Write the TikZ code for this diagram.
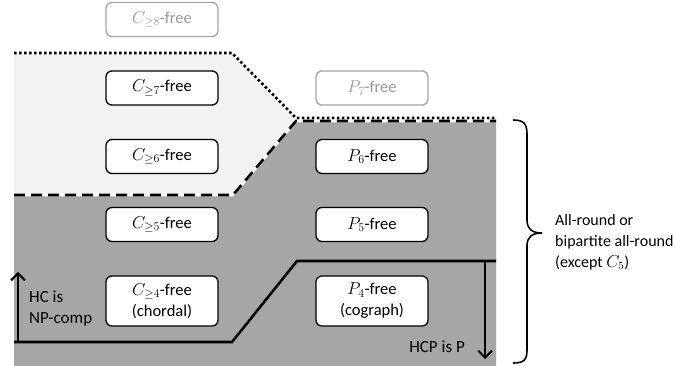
\documentclass[tikz,border=0pt]{standalone}
\usepackage{fontspec}
\setmainfont{Carlito}
\usetikzlibrary{arrows.meta}
\definecolor{darkbg}{HTML}{A6A6A6}
\definecolor{lightbg}{HTML}{F2F2F2}
\definecolor{fadegray}{HTML}{999999}
\tikzset{
  classbox/.style={draw=black, fill=white, line width=1.3pt, rounded corners=6pt,
    minimum width=112pt, minimum height=34pt, font=\fontsize{16.5}{21}\selectfont, inner sep=0pt},
  fadebox/.style={classbox, draw=fadegray!90, text=fadegray},
  tallbox/.style={classbox, minimum height=50pt, align=center},
  bound/.style={line width=2.6pt},
  sidetext/.style={font=\fontsize{17}{21}\selectfont, align=left, inner sep=0pt},
  bracetext/.style={font=\fontsize{16}{21}\selectfont, align=left, inner sep=0pt},
  harrow/.style={line width=2.2pt, -{Straight Barb[length=7pt,width=14pt,line width=2pt]}}
}
\begin{document}
\begin{tikzpicture}[x=1pt,y=-1pt]
\useasboundingbox (0,0) rectangle (675,366);
% regions
\fill[lightbg] (14,53) -- (232,53) -- (296,118) -- (496,118) -- (496,366) -- (14,366) -- cycle;
\fill[darkbg] (14,195) -- (233,195) -- (296,121) -- (496,121) -- (496,366) -- (14,366) -- cycle;
% boundaries
\draw[bound, white] (14,53) -- (232,53) -- (296,118) -- (496,118);
\draw[bound, black, dash pattern=on 2.6pt off 2.4pt] (14,53) -- (232,53) -- (296,118) -- (496,118);
\draw[bound, white] (14,195) -- (233,195) -- (296,121) -- (496,121);
\draw[bound, black, dash pattern=on 11pt off 6pt] (14,195) -- (233,195) -- (296,121) -- (496,121);
% solid border
\draw[bound, line join=miter] (14,342) -- (232,342) -- (297,261) -- (496,261);
\coordinate (upbase) at (18,342);
\coordinate (uptip) at (18,272);
\coordinate (downbase) at (485,261);
\coordinate (downtip) at (485,359);
\draw[harrow] (upbase) -- (uptip);
\draw[harrow] (downbase) -- (downtip);
% boxes
\node[fadebox] (c8) at (162,19.5) {$C_{\geq 8}$-free};
\node[classbox] (c7) at (162,88) {$C_{\geq 7}$-free};
\node[classbox] (c6) at (162,156.5) {$C_{\geq 6}$-free};
\node[classbox] (c5) at (162,224.5) {$C_{\geq 5}$-free};
\node[tallbox] (c4) at (162,301) {$C_{\geq 4}$-free\\(chordal)};
\node[fadebox] (p7) at (372,88) {$P_{7}$-free};
\node[classbox] (p6) at (372,156.5) {$P_{6}$-free};
\node[classbox] (p5) at (372,224.5) {$P_{5}$-free};
\node[tallbox] (p4) at (372,301) {$P_{4}$-free\\(cograph)};
% side texts
\node[sidetext, anchor=west] (hc) at (29,309) {HC is\\NP-comp};
\node[sidetext, anchor=east] (hcp) at (465,347) {HCP is P};
% brace
\draw[line width=1.6pt] (513,120) .. controls (524,120) and (527,124) .. (527,134) -- (527,220)
  .. controls (527,229) and (532,233) .. (542,233)
  .. controls (532,233) and (527,237) .. (527,246) -- (527,350)
  .. controls (527,360) and (524,363) .. (513,363);
\node[bracetext, anchor=west] (allround) at (555,242) {All-round or\\bipartite all-round\\(except $C_5$)};
\end{tikzpicture}
\end{document}
